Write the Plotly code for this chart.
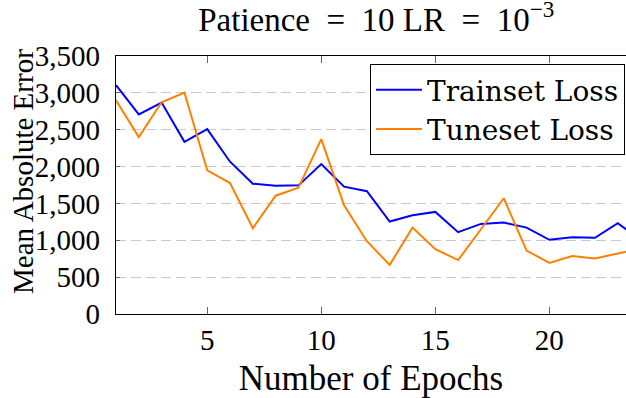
import plotly.graph_objects as go

epochs = list(range(1, 25))
train_loss = [3104, 2707, 2869, 2336, 2508, 2066, 1768, 1741, 1745, 2034, 1727, 1665,
              1254, 1340, 1385, 1110, 1222, 1240, 1172, 1006, 1042, 1033, 1232, 1005]
tune_loss = [2900, 2400, 2873, 3005, 1949, 1777, 1164, 1605, 1714, 2373, 1475, 988,
             667, 1172, 880, 731, 1150, 1570, 861, 694, 785, 753, 820, 885]
y_ticks = [0, 500, 1000, 1500, 2000, 2500, 3000, 3500]
y_tick_labels = ["0", "500", "1,000", "1,500", "2,000", "2,500", "3,000", "3,500"]
x_ticks = [5, 10, 15, 20]

FONT = "Liberation Serif"
FS = 29
FS_BIG = 33

fig = go.Figure()
fig.add_trace(go.Scatter(x=epochs, y=train_loss, mode="lines", name="Trainset Loss",
                         line=dict(color="rgb(0,0,255)", width=2)))
fig.add_trace(go.Scatter(x=epochs, y=tune_loss, mode="lines", name="Tuneset Loss",
                         line=dict(color="rgb(255,128,0)", width=2)))

fig.update_layout(
    width=626, height=398,
    margin=dict(l=116, r=0, t=56, b=84),
    paper_bgcolor="white", plot_bgcolor="white",
    font=dict(family=FONT, size=FS, color="black"),
    title=dict(text="Patience  =  10 LR  =  10<sup>−3</sup>", x=0.601, xanchor="center",
               y=0.952, yanchor="middle", font=dict(family=FONT, size=FS_BIG)),
    showlegend=True,
    legend=dict(x=0.998, xanchor="right", y=0.969, yanchor="top",
                bordercolor="black", borderwidth=1, bgcolor="white",
                font=dict(family="DejaVu Serif", size=28), itemwidth=46,
                tracegroupgap=0),
    xaxis=dict(range=[1, 23.36], tickvals=x_ticks, ticks="inside", ticklen=7,
               tickcolor="#666", showline=True, linecolor="black", linewidth=1.2,
               mirror="ticks", showgrid=False, zeroline=False,
               title=dict(text="Number of Epochs", standoff=12),
               tickfont=dict(family=FONT, size=FS)),
    yaxis=dict(range=[0, 3500], tickvals=y_ticks, ticktext=y_tick_labels,
               ticks="inside", ticklen=4, tickcolor="#666", ticklabelstandoff=9,
               showline=True, linecolor="black", linewidth=1.2, mirror=True,
               showgrid=True, gridcolor="#c8c8c8", griddash="10px,5px", gridwidth=1,
               zeroline=False, tickfont=dict(family=FONT, size=FS)),
    annotations=[dict(text="Mean Absolute Error", textangle=-90, xref="paper", yref="paper",
                      x=-0.182, y=0.551, xanchor="center", yanchor="middle",
                      showarrow=False, font=dict(family=FONT, size=FS))],
)

fig.write_html("out.html", config={"displayModeBar": False},
               post_script="document.body.style.margin='0';document.body.style.overflow='hidden';")
